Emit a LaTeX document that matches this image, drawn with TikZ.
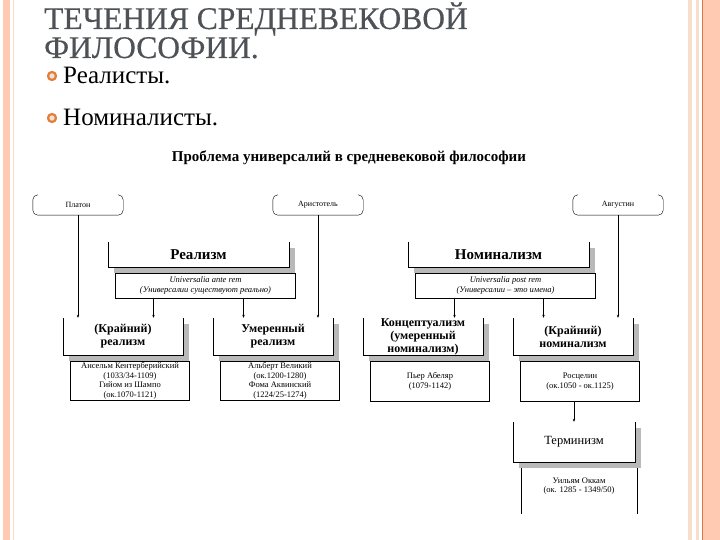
\documentclass[tikz,border=0pt]{standalone}
\usepackage{fontspec}
\setmainfont{Liberation Serif}
\usetikzlibrary{positioning,shadows,arrows.meta}

\definecolor{bandfill}{HTML}{FFC9B2}
\definecolor{bandline}{HTML}{DC7A4A}
\definecolor{bandpale}{HTML}{F6DDCC}
\definecolor{titlegray}{HTML}{4E5257}
\definecolor{ringorange}{HTML}{E07E3C}

\begin{document}
\begin{tikzpicture}[x=1pt, y=-1pt,
        thinker/.style={minimum width=90pt, minimum height=20pt, inner sep=0pt, font=\fontsize{8}{9}\selectfont},
        slab/.style={fill=white, inner sep=0pt, align=center,
            drop shadow={shadow xshift=6pt, shadow yshift=-6pt, fill=gray!55, opacity=1},
            font=\bfseries\fontsize{12}{13}\selectfont},
        note/.style={draw=black, fill=white, inner sep=0pt, align=center, font=\fontsize{8.5}{9.5}\selectfont},
        link/.style={-{Stealth[length=3pt, width=2.5pt]}, line width=0.8pt},
        ring/.style={circle, draw=ringorange, line width=2.2pt, fill=ringorange!25, minimum size=8pt, inner sep=0pt},
        headline/.style={anchor=base west, inner sep=0pt, text=titlegray, font=\addfontfeature{FakeBold=0.5}\fontsize{31.5}{32}\selectfont}
    ]
    \useasboundingbox (0,0) rectangle (720,540);

    % Slide frame
    \fill[white] (0,0) rectangle (720,540);
    \fill[bandfill] (3,0) rectangle (10,540);
    \draw[bandpale, line width=1pt] (13.5,0) -- (13.5,540);
    \fill[bandpale] (688,0) rectangle (692,540);
    \fill[bandpale] (696,0) rectangle (699,540);
    \fill[bandfill] (703,0) rectangle (720,540);
    \draw[bandline, line width=1pt] (702.5,0) -- (702.5,540);

    % Slide title and bullets
    \node[headline] (title) at (44,29) {ТЕЧЕНИЯ СРЕДНЕВЕКОВОЙ};
    \node[headline] (title2) at (44,58) {ФИЛОСОФИИ.};
    \node[ring] (ring1) at (52,76) {};
    \node[ring] (ring2) at (52,118) {};
    \node[anchor=base west, inner sep=0pt, font=\fontsize{25}{25}\selectfont] (realists) at (63,84) {Реалисты.};
    \node[anchor=base west, inner sep=0pt, font=\fontsize{25}{25}\selectfont] (nominalists) at (63,126) {Номиналисты.};

    % Diagram heading
    \node[font=\bfseries\fontsize{15}{16}\selectfont] (problem) at (349,158) {Проблема универсалий в средневековой философии};

    % Thinkers
    \node[thinker] (plato) at (78,205) {Платон};
    \node[thinker] (aristotle) at (318,205) {Аристотель};
    \node[thinker] (augustine) at (618,205) {Августин};
    \foreach \n in {plato,aristotle,augustine}
        \draw[rounded corners=5pt] ([xshift=5pt]\n.north west) -- (\n.north west) -- (\n.south west)
            -- (\n.south east) -- (\n.north east) -- ([xshift=-5pt]\n.north east);

    % Main doctrines
    \node[slab, minimum width=181pt, minimum height=25pt, font=\bfseries\fontsize{15}{16}\selectfont] (realism) at (198.5,254.5) {Реализм};
    \node[slab, minimum width=181pt, minimum height=25pt, font=\bfseries\fontsize{15}{16}\selectfont] (nominalism) at (498.5,254.5) {Номинализм};
    \node[note, minimum width=180pt, minimum height=25pt, below=6pt of realism, xshift=7pt, font=\itshape\fontsize{8.5}{10}\selectfont] (realnote)
        {Universalia ante rem\\(Универсалии существуют реально)};
    \node[note, minimum width=180pt, minimum height=25pt, below=6pt of nominalism, xshift=7pt, font=\itshape\fontsize{8.5}{10}\selectfont] (nomnote)
        {Universalia post rem\\(Универсалии -- это имена)};

    % Schools
    \node[slab, minimum width=120pt, minimum height=37pt] (extreal) at (123,336.5) {(Крайний)\\реализм};
    \node[slab, minimum width=120pt, minimum height=37pt] (modreal) at (273,336.5) {Умеренный\\реализм};
    \node[slab, minimum width=120pt, minimum height=37pt] (concept) at (423,336.5) {Концептуализм\\(умеренный\\номинализм)};
    \node[slab, minimum width=120pt, minimum height=37pt] (extnom) at (573,336.5) {(Крайний)\\номинализм};
    \node[slab, minimum width=122pt, minimum height=40pt, font=\fontsize{12.5}{13}\selectfont] (term) at (574,442) {Терминизм};

    \node[note, minimum width=119pt, minimum height=39pt, below=6pt of extreal, xshift=7pt] (extrealnote)
        {Ансельм Кентерберийский\\(1033/34-1109)\\Гийом из Шампо\\(ок.1070-1121)};
    \node[note, minimum width=119pt, minimum height=39pt, below=6pt of modreal, xshift=7pt] (modrealnote)
        {Альберт Великий\\(ок.1200-1280)\\Фома Аквинский\\(1224/25-1274)};
    \node[note, minimum width=119pt, minimum height=40pt, below=6pt of concept, xshift=7pt] (conceptnote)
        {Пьер Абеляр\\(1079-1142)};
    \node[note, minimum width=119pt, minimum height=40pt, below=6pt of extnom, xshift=7pt] (extnomnote)
        {Росцелин\\(ок.1050 - ок.1125)};
    \node[minimum width=115pt, minimum height=45pt, inner sep=0pt, below=6pt of term, xshift=5pt] (termnote) {};
    \node[align=center, font=\fontsize{8.5}{9.5}\selectfont, below=6pt of termnote.north] (termtext) {Уильям Оккам\\(ок. 1285 - 1349/50)};
    \draw (termnote.south west) -- (termnote.north west);
    \draw (termnote.south east) -- (termnote.north east);

    % Open tops of the slabs
    \foreach \n in {realism,nominalism,extreal,modreal,concept,extnom,term}
        \draw (\n.north west) -- (\n.south west) -- (\n.south east) -- (\n.north east);

    % Links
    \draw[link] (plato.south) -- (plato.south |- extreal.north);
    \draw[link] (aristotle.south) -- (aristotle.south |- modreal.north);
    \draw[link] (augustine.south) -- (augustine.south |- extnom.north);
    \draw[link] ([xshift=-52pt]realnote.south) -- ([xshift=-52pt]realnote.south |- extreal.north);
    \draw[link] ([xshift=38pt]realnote.south) -- ([xshift=38pt]realnote.south |- modreal.north);
    \draw[link] ([xshift=-51pt]nomnote.south) -- ([xshift=-51pt]nomnote.south |- concept.north);
    \draw[link] ([xshift=38pt]nomnote.south) -- ([xshift=38pt]nomnote.south |- extnom.north);
    \draw[link] (extnomnote.south -| term.north) -- (term.north);

\end{tikzpicture}
\end{document}
